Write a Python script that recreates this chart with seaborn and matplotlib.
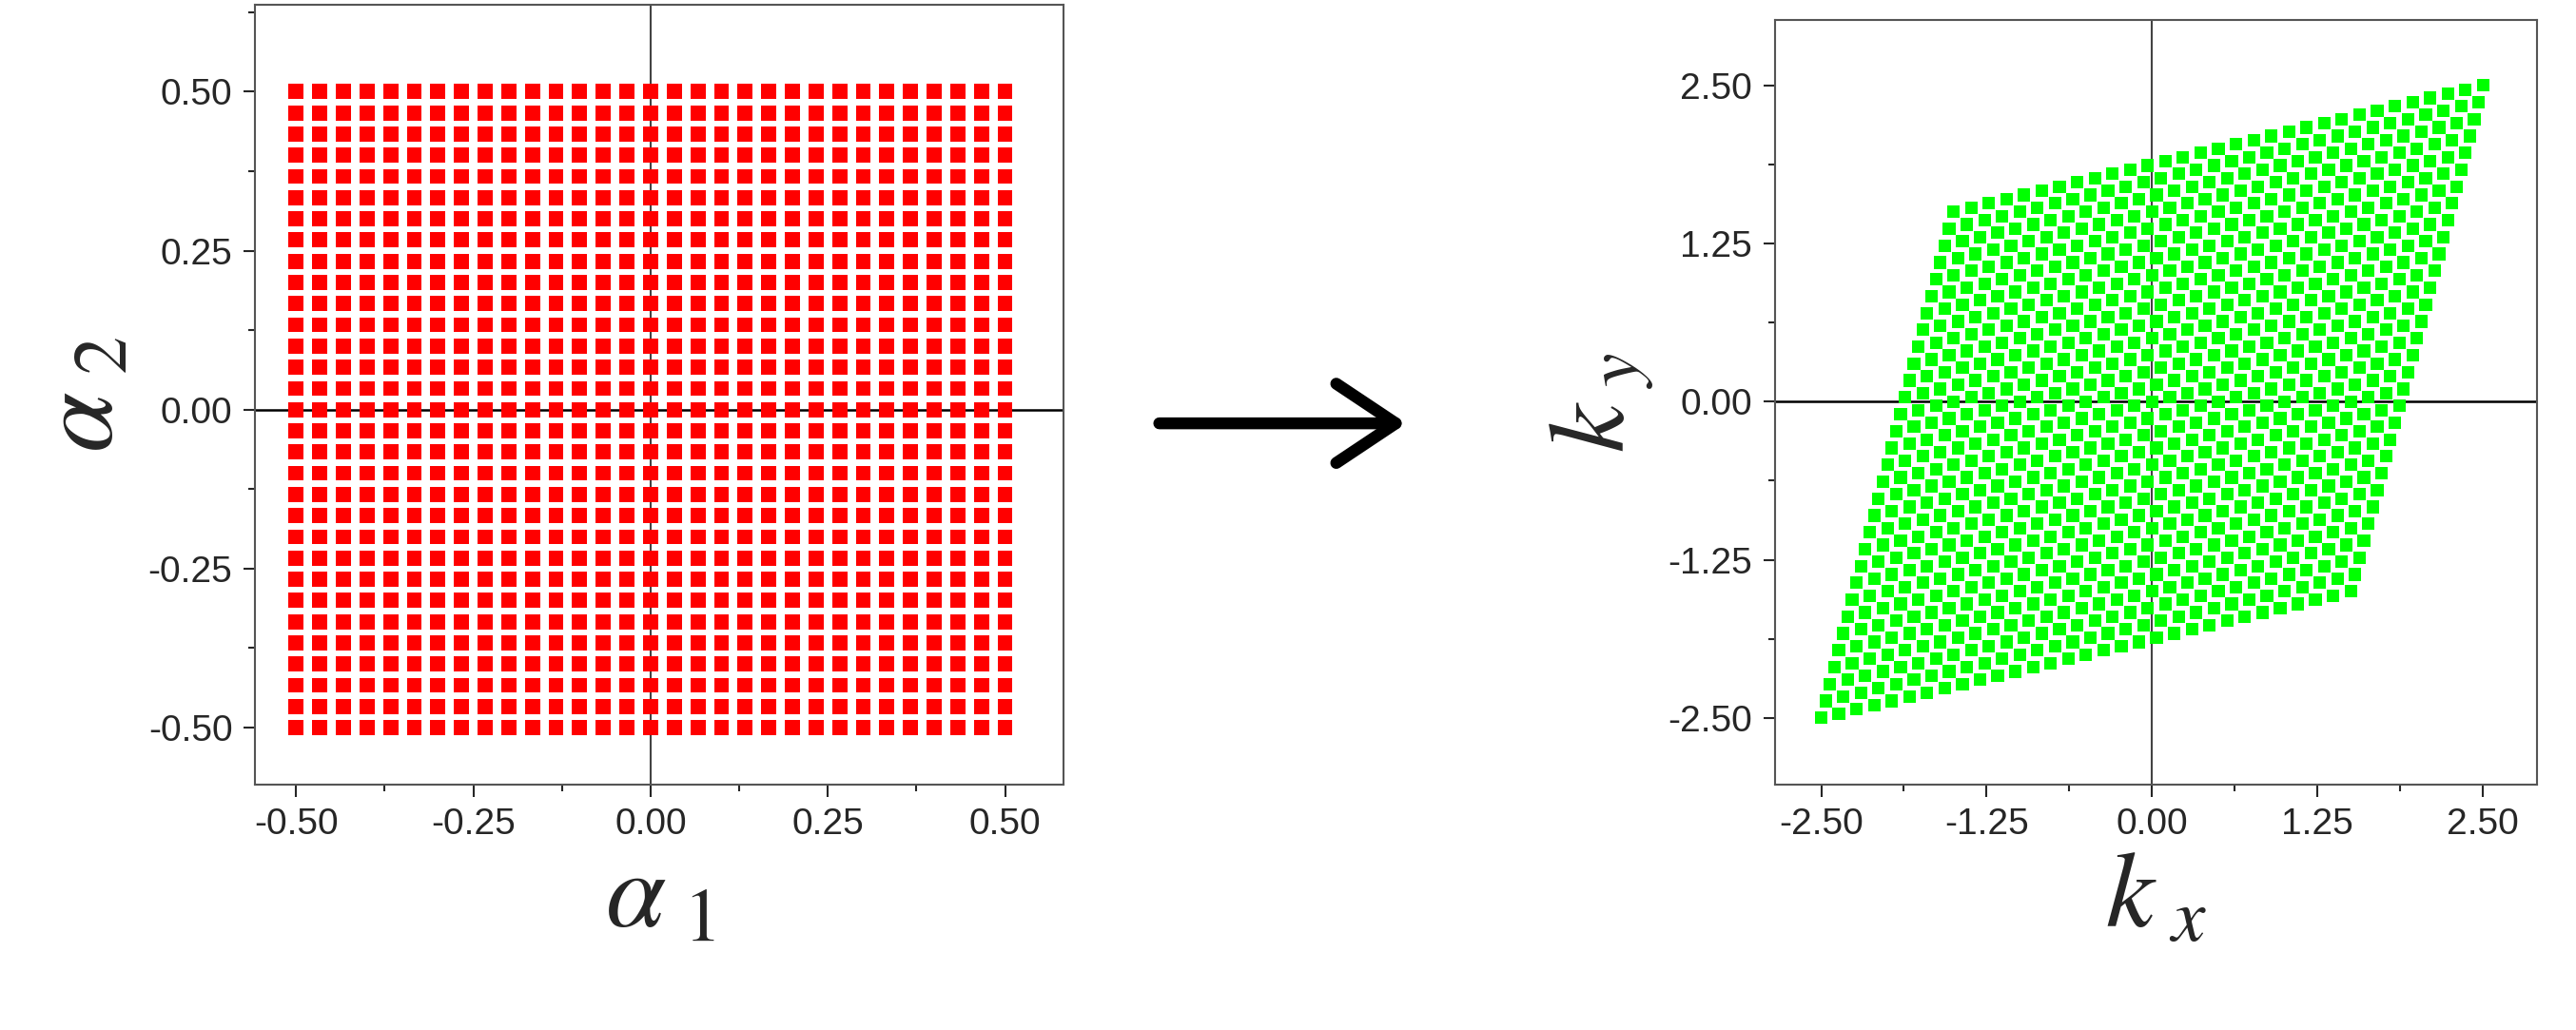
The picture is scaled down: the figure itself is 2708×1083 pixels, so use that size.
import numpy as np
import pandas as pd
import matplotlib
matplotlib.use("Agg")
import matplotlib.pyplot as plt
import seaborn as sns
from matplotlib.ticker import MultipleLocator, FormatStrFormatter

sns.set_theme(style="ticks")
plt.rcParams["font.family"] = ["Liberation Sans", "DejaVu Sans"]
plt.rcParams["mathtext.fontset"] = "stix"

# Grille dans l'espace alpha (31 x 31 points)
alpha_vals = np.linspace(-0.5, 0.5, 31)
# Vecteurs de base de la transformation alpha -> k
b1 = [4.0, 1.0]
b2 = [1.0, 4.0]
left_ticks = [-0.50, -0.25, 0.00, 0.25, 0.50]
right_ticks = [-2.50, -1.25, 0.00, 1.25, 2.50]

a1, a2 = np.meshgrid(alpha_vals, alpha_vals)
df = pd.DataFrame({"a1": a1.ravel(), "a2": a2.ravel()})
df["kx"] = df["a1"] * b1[0] + df["a2"] * b2[0]
df["ky"] = df["a1"] * b1[1] + df["a2"] * b2[1]

fig = plt.figure(figsize=(27.08, 10.83), dpi=100)
ax1 = fig.add_axes([0.099, 0.238, 0.314, 0.757])
ax2 = fig.add_axes([0.689, 0.238, 0.296, 0.743])


def style_axes(ax, ticks, step):
    ax.axhline(0, color="black", lw=1.8, zorder=1)
    ax.axvline(0, color="#444444", lw=1.5, zorder=1)
    ax.set_xticks(ticks)
    ax.set_yticks(ticks)
    ax.xaxis.set_minor_locator(MultipleLocator(step / 2))
    ax.yaxis.set_minor_locator(MultipleLocator(step / 2))
    ax.xaxis.set_major_formatter(FormatStrFormatter("%.2f"))
    ax.yaxis.set_major_formatter(FormatStrFormatter("%.2f"))
    ax.tick_params(which="major", direction="out", length=9, width=1.5, labelsize=28, pad=8)
    ax.tick_params(which="minor", direction="out", length=5, width=1.5)
    for s in ax.spines.values():
        s.set_linewidth(1.5)
        s.set_color("#555555")


sns.scatterplot(data=df, x="a1", y="a2", marker="s", s=130, color="#ff0000",
                edgecolor="none", ax=ax1, zorder=2)
ax1.set_xlim(-0.558, 0.583)
ax1.set_ylim(-0.59, 0.636)
style_axes(ax1, left_ticks, 0.25)
ax1.set_xlabel(r"$\alpha_{\ 1}$", fontsize=82, labelpad=6)
ax1.set_ylabel(r"$\alpha_{\ 2}$", fontsize=82, labelpad=10)

sns.scatterplot(data=df, x="kx", y="ky", marker="s", s=90, color="#00ff00",
                edgecolor="none", ax=ax2, zorder=2)
ax2.set_xlim(-2.85, 2.91)
ax2.set_ylim(-3.03, 3.02)
style_axes(ax2, right_ticks, 1.25)
ax2.set_xlabel(r"$k_{\ x}$", fontsize=82, labelpad=6)
ax2.set_ylabel(r"$k_{\ y}$", fontsize=82, labelpad=10)

# Flèche entre les deux panneaux
fig.patches.append(matplotlib.patches.FancyArrowPatch(
    (0.449, 0.589), (0.547, 0.589), transform=fig.transFigure,
    arrowstyle="->,head_length=1.5,head_width=1.0", lw=9, color="black",
    mutation_scale=30))

fig.savefig("out.png", dpi=100)
